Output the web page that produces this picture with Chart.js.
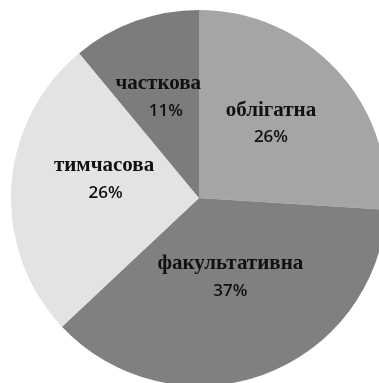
<!DOCTYPE html>
<html>
<head>
<meta charset="utf-8">
<script src="https://cdn.jsdelivr.net/npm/chart.js@4/dist/chart.umd.min.js"></script>
<style>
  html, body { margin: 0; padding: 0; background: #ffffff; overflow: hidden; width: 379px; height: 383px; }
  #wrap { position: absolute; left: 11px; top: 10px; width: 376px; height: 376px; }
</style>
</head>
<body>
<div id="wrap"><canvas id="pie" width="376" height="376"></canvas></div>
<script>
// Форми зайнятості, частки у відсотках
const categories = ['облігатна', 'факультативна', 'тимчасова', 'часткова'];
const shares = [26, 37, 26, 11];
const sliceColors = ['#a5a5a5', '#808080', '#e3e3e3', '#7c7c7c'];

// Where each label block sits: fraction of the radius along the slice bisector,
// plus a small nudge in pixels; nameDx shifts the category name only.
const labelPlacement = [
  { frac: 0.547, dx: -3, dy: -5, nameDx: 0 },
  { frac: 0.445, dx: 3,  dy: -1, nameDx: 0 },
  { frac: 0.506, dx: 1,  dy: -14, nameDx: -1 },
  { frac: 0.577, dx: 1,  dy: 0,  nameDx: -5 }
];

const sliceLabels = {
  id: 'sliceLabels',
  afterDatasetsDraw(chart) {
    const ctx = chart.ctx;
    const meta = chart.getDatasetMeta(0);
    const total = shares.reduce((a, b) => a + b, 0);
    ctx.save();
    ctx.textAlign = 'center';
    ctx.textBaseline = 'middle';
    ctx.fillStyle = '#111111';
    meta.data.forEach((arc, i) => {
      const p = arc.getProps(['x', 'y', 'startAngle', 'endAngle', 'outerRadius'], true);
      const mid = (p.startAngle + p.endAngle) / 2;
      const place = labelPlacement[i];
      const r = p.outerRadius * place.frac;
      const cx = p.x + Math.cos(mid) * r + place.dx;
      const cy = p.y + Math.sin(mid) * r + place.dy;
      ctx.font = 'bold 21px "Liberation Serif", "Times New Roman", serif';
      ctx.fillText(categories[i], cx + place.nameDx, cy - 12);
      ctx.font = '600 17px "Open Sans", "Liberation Sans", sans-serif';
      const pct = Math.round(shares[i] / total * 100) + '%';
      ctx.fillText(pct, cx - place.nameDx / 2, cy + 15);
    });
    ctx.restore();
  }
};

new Chart(document.getElementById('pie'), {
  type: 'pie',
  data: {
    labels: categories,
    datasets: [{
      data: shares,
      backgroundColor: sliceColors,
      borderWidth: 0
    }]
  },
  options: {
    responsive: false,
    animation: false,
    layout: { padding: 0 },
    plugins: {
      legend: { display: false },
      tooltip: { enabled: false }
    }
  },
  plugins: [sliceLabels]
});
</script>
</body>
</html>
